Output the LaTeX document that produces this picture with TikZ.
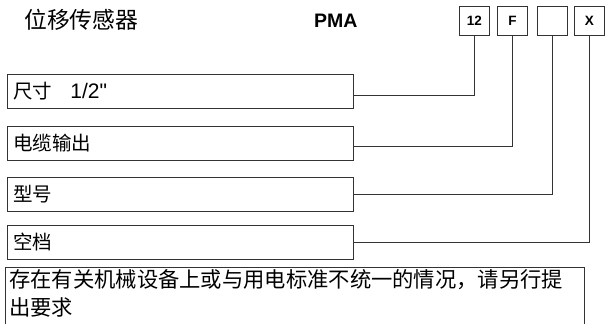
\documentclass[tikz,border=0pt]{standalone}
\usepackage{fontspec}
\setmainfont{Liberation Sans}
\newfontfamily\lat{Liberation Sans}
\newfontfamily\cjk{Noto Sans CJK SC}
\usetikzlibrary{calc}
\begin{document}
\begin{tikzpicture}[x=1pt,y=-1pt,
  ln/.style={draw=black!80,line width=0.8pt},
  codebox/.style={ln,minimum width=30pt,minimum height=29pt,inner sep=0pt,anchor=north west,font=\bfseries\fontsize{13.5}{15}\selectfont},
  itembox/.style={ln,anchor=north west,minimum height=34pt,text width=334pt,inner xsep=6pt,inner ysep=0pt,align=left,font=\cjk\fontsize{19.5}{22}\selectfont},
  conn/.style={draw=black!80,line width=0.8pt}]
\useasboundingbox (0,0) rectangle (607,324);
\node[anchor=west,inner sep=0pt,font=\cjk\fontsize{22.8}{26}\selectfont] (title) at (24,20) {位移传感器};
\node[anchor=west,inner sep=0pt,font=\bfseries\fontsize{19.5}{22}\selectfont] (pma) at (314,21) {PMA};
\node[codebox] (c1) at (459,6) {12};
\node[codebox] (c2) at (497,6) {F};
\node[codebox] (c3) at (537,6) {};
\node[codebox] (c4) at (574,6) {X};
\node[itembox] (b1) at (7,73.5) {尺寸\hspace{18pt}{\lat\fontsize{21}{22}\selectfont 1/2"}};
\node[itembox] (b2) at (7,126) {电缆输出};
\node[itembox] (b3) at (7,176.5) {型号};
\node[itembox] (b4) at (7,225) {空档};
\draw[conn] (c1.south) |- ([yshift=-4.5pt]b1.east);
\draw[conn] (c2.south) |- ([yshift=-2.5pt]b2.east);
\draw[conn] (c3.south) |- (b3.east);
\draw[conn] (c4.south) |- (b4.east);
\coordinate (bl) at (5,324);
\coordinate (br) at (584,324);
\draw[ln] (bl) -- (5,267) -- (584,267) -- (br);
\node[anchor=north west,inner sep=0pt,text width=575pt,align=left,font=\cjk\fontsize{21.3}{28}\selectfont] (note) at (9,269.5) {存在有关机械设备上或与用电标准不统一的情况，请另行提\\出要求};
\end{tikzpicture}
\end{document}
